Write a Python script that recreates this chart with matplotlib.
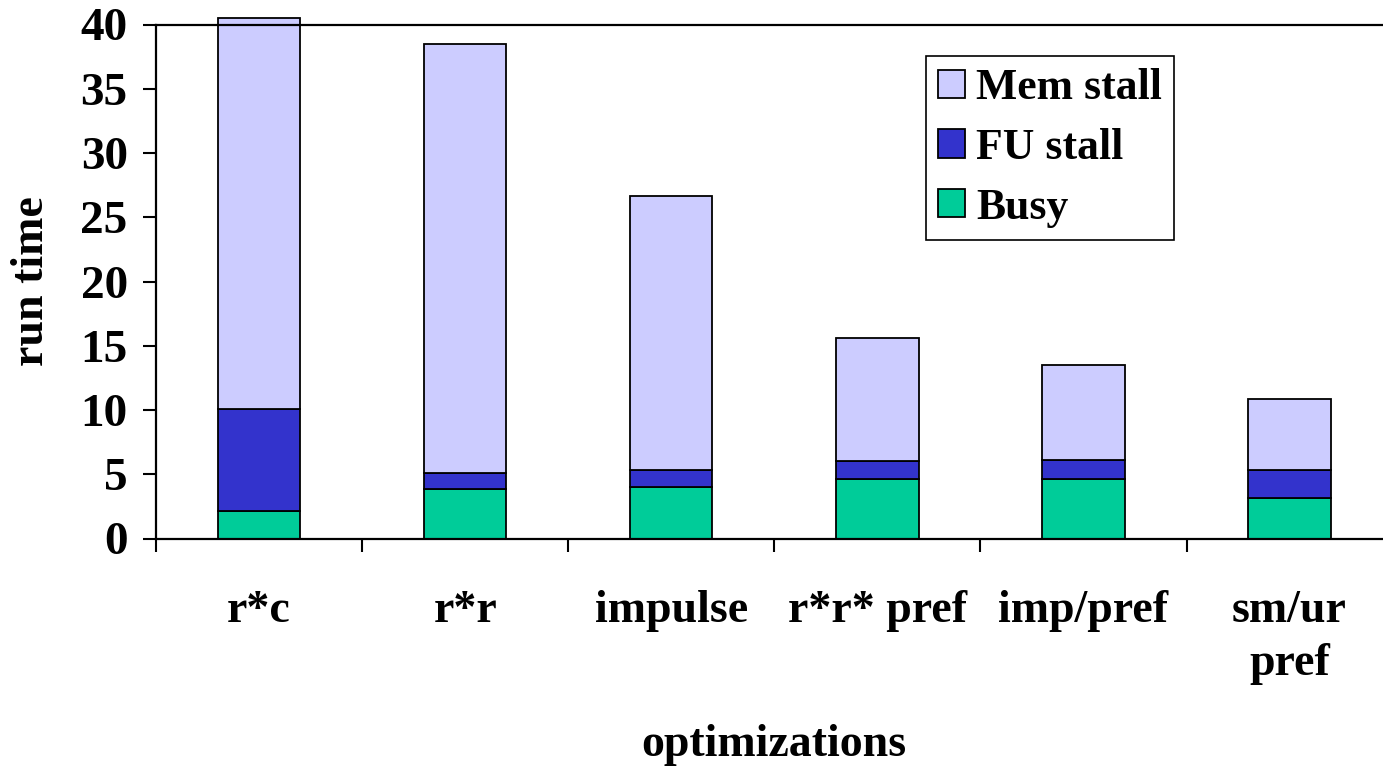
import numpy as np
import matplotlib.pyplot as plt

plt.rcParams['font.family'] = ['Liberation Serif', 'DejaVu Serif']
plt.rcParams['font.weight'] = 'bold'
plt.rcParams['axes.labelweight'] = 'bold'

# run time breakdown per optimization
categories = ['r*c', 'r*r', 'impulse', 'r*r* pref', 'imp/pref', 'sm/ur\npref']
busy = np.array([2.16, 3.88, 4.03, 4.65, 4.65, 3.13])
fu_stall = np.array([7.89, 1.22, 1.28, 1.40, 1.43, 2.18])
mem_stall = np.array([30.45, 33.36, 21.33, 9.56, 7.45, 5.55])

c_busy = '#00CC99'
c_fu = '#3333CC'
c_mem = '#CCCCFF'

fig = plt.figure(figsize=(13.83, 7.66), dpi=100)
ax = fig.add_axes([156 / 1383, 1 - 538.5 / 766, 1236.6 / 1383, 514 / 766])

x = np.arange(len(categories))
w = 0.4
b1 = ax.bar(x, busy, w, color=c_busy, edgecolor='black', linewidth=1.3, label='Busy')
b2 = ax.bar(x, fu_stall, w, bottom=busy, color=c_fu, edgecolor='black',
            linewidth=1.3, label='FU stall')
b3 = ax.bar(x, mem_stall, w, bottom=busy + fu_stall, color=c_mem,
            edgecolor='black', linewidth=1.3, label='Mem stall')
for p in b3:
    p.set_clip_on(False)

ax.set_xlim(-0.5, 5.5)
ax.set_ylim(0, 40)
ax.set_yticks(np.arange(0, 41, 5))
ax.set_xticks(x)
ax.set_xticklabels(categories, fontsize=33, linespacing=1.35)
ax.set_xticks(np.arange(-0.5, 5.0, 1), minor=True)
ax.tick_params(axis='x', which='major', length=0, pad=37)
ax.tick_params(axis='x', which='minor', direction='out', length=9.4, width=1.5)
ax.tick_params(axis='y', direction='out', length=9.4, width=1.5, pad=11,
               labelsize=34)

for s in ['left', 'bottom', 'top']:
    ax.spines[s].set_linewidth(1.6)
ax.spines['right'].set_visible(False)

ax.set_ylabel('run time', fontsize=33, fontweight='bold')
ax.yaxis.set_label_coords(-0.083, 0.5)
ax.set_xlabel('optimizations', fontsize=33, fontweight='bold')
ax.xaxis.set_label_coords(0.5, -0.36)

leg = ax.legend(handles=[b3, b2, b1], loc='upper left',
                bbox_to_anchor=(926 / 1383, 1 - 56 / 766),
                bbox_transform=fig.transFigure, fontsize=31.5,
                frameon=True, fancybox=False, shadow=False, framealpha=1,
                handlelength=0.62, handleheight=0.62, handletextpad=0.25,
                labelspacing=0.45, borderpad=0.28, borderaxespad=0)
leg.get_frame().set_edgecolor('black')
leg.get_frame().set_linewidth(1.2)

fig.savefig('out.png', dpi=100)
